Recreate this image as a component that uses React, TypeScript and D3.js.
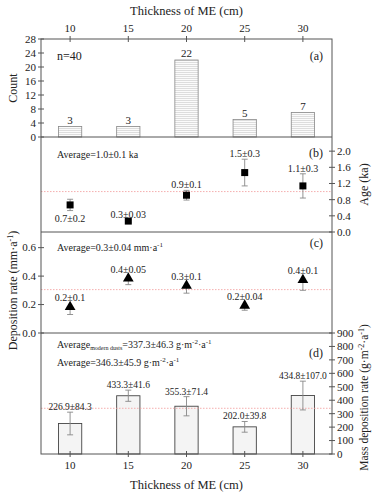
import React from "react";
import * as d3 from "d3";

const thickness = [10, 15, 20, 25, 30];
const counts = [3, 3, 22, 5, 7];
const ageValues = [0.67, 0.27, 0.91, 1.47, 1.14];
const ageErrors = [0.14, 0.03, 0.12, 0.33, 0.3];
const ageLabels = ["0.7±0.2", "0.3±0.03", "0.9±0.1", "1.5±0.3", "1.1±0.3"];
const ageAverage = 1.0;
const rateValues = [0.19, 0.39, 0.34, 0.2, 0.38];
const rateErrors = [0.06, 0.05, 0.06, 0.04, 0.08];
const rateLabels = ["0.2±0.1", "0.4±0.05", "0.3±0.1", "0.2±0.04", "0.4±0.1"];
const rateAverage = 0.305;
const massValues = [226.9, 433.3, 355.3, 202.0, 434.8];
const massErrors = [84.3, 41.6, 71.4, 39.8, 107.0];
const massLabels = ["226.9±84.3", "433.3±41.6", "355.3±71.4", "202.0±39.8", "434.8±107.0"];
const massAverage = 340;
const countTicks = [0, 4, 8, 12, 16, 20, 24, 28];
const ageTicks = [0, 0.4, 0.8, 1.2, 1.6, 2.0];
const rateTicks = [0, 0.2, 0.4, 0.6];
const massTicks = [0, 100, 200, 300, 400, 500, 600, 700, 800, 900];

const FONT = "Liberation Serif, DejaVu Serif, serif";
const FRAME = "#555";
const ERR = "#888";
const AVG = "#f29a9a";

const L = 41, R = 332;
const Y0 = 39, Y1 = 137, Y2 = 232, Y3 = 333, Y4 = 454;

export default function App() {
  const x = d3.scaleLinear().domain([7.5, 32.5]).range([L, R]);
  const ya = d3.scaleLinear().domain([0, 28]).range([Y1, Y0]);
  const yb = d3.scaleLinear().domain([0, 2.35]).range([Y2, Y1]);
  const yc = d3.scaleLinear().domain([0, 0.71]).range([Y3, Y2]);
  const yd = d3.scaleLinear().domain([0, 900]).range([Y4, Y3]);
  const bw = x(11) - x(9);
  const cap = 3;
  const tri = d3.symbol().type(d3.symbolTriangle).size(50)();

  const errBar = (cx: number, top: number, bot: number, key: string, showTop = true) => (
    <g key={key} stroke={ERR} strokeWidth={0.9}>
      <line x1={cx} x2={cx} y1={top} y2={bot} />
      {showTop && <line x1={cx - cap} x2={cx + cap} y1={top} y2={top} />}
      <line x1={cx - cap} x2={cx + cap} y1={bot} y2={bot} />
    </g>
  );

  const leftAxis = (scale: d3.ScaleLinear<number, number>, ticks: number[], fmt: (v: number) => string, key: string) => (
    <g key={key}>
      {ticks.map((t) => (
        <g key={t}>
          <line x1={L - 3} x2={L + 3} y1={scale(t)} y2={scale(t)} stroke={FRAME} />
          <text x={L - 5} y={scale(t)} dy="0.35em" textAnchor="end" fontSize={11}>{fmt(t)}</text>
        </g>
      ))}
    </g>
  );
  const rightAxis = (scale: d3.ScaleLinear<number, number>, ticks: number[], fmt: (v: number) => string, key: string) => (
    <g key={key}>
      {ticks.map((t) => (
        <g key={t}>
          <line x1={R - 3} x2={R + 3} y1={scale(t)} y2={scale(t)} stroke={FRAME} />
          <text x={R + 5} y={scale(t)} dy="0.35em" textAnchor="start" fontSize={11}>{fmt(t)}</text>
        </g>
      ))}
    </g>
  );

  return (
    <svg width={376} height={495} style={{ position: "absolute", left: 0, top: 0, fontFamily: FONT }} fill="#222">
      <defs>
        <pattern id="hlines" width="4" height="2" patternUnits="userSpaceOnUse">
          <rect width="4" height="2" fill="#fbfbfb" />
          <line x1="0" x2="4" y1="0.5" y2="0.5" stroke="#d0d0d0" strokeWidth="0.7" />
        </pattern>
      </defs>

      {/* Top axis */}
      <text x={(L + R) / 2} y={15} textAnchor="middle" fontSize={12.5}>Thickness of ME (cm)</text>
      {thickness.map((t) => (
        <g key={"tt" + t}>
          <line x1={x(t)} x2={x(t)} y1={Y0 - 3} y2={Y0 + 3} stroke={FRAME} />
          <text x={x(t)} y={32} textAnchor="middle" fontSize={11}>{t}</text>
        </g>
      ))}

      {/* Panel a bars */}
      {counts.map((c, i) => (
        <g key={"a" + i}>
          <rect x={x(thickness[i]) - bw / 2} y={ya(c)} width={bw} height={Y1 - ya(c)} fill="url(#hlines)" stroke="#888" strokeWidth={0.8} />
          <text x={x(thickness[i])} y={ya(c) - 3} textAnchor="middle" fontSize={11}>{c}</text>
        </g>
      ))}
      <text x={57} y={60} fontSize={12}>n=40</text>
      <text x={323} y={60} textAnchor="end" fontSize={12}>(a)</text>

      {/* Panel b */}
      <line x1={L} x2={R} y1={yb(ageAverage)} y2={yb(ageAverage)} stroke={AVG} strokeWidth={0.8} strokeDasharray="1.5,1.5" />
      {ageValues.map((v, i) => {
        const cx = x(thickness[i]);
        return (
          <g key={"b" + i}>
            {errBar(cx, yb(v + ageErrors[i]), yb(v - ageErrors[i]), "be" + i)}
            <rect x={cx - 3.5} y={yb(v) - 3.5} width={7} height={7} fill="#000" />
            <text x={cx} y={i === 0 ? yb(v - ageErrors[i]) + 11 : yb(v + ageErrors[i]) - 2} textAnchor="middle" fontSize={10}>{ageLabels[i]}</text>
          </g>
        );
      })}
      <text x={57} y={158} fontSize={10}>Average=1.0±0.1 ka</text>
      <text x={323} y={157} textAnchor="end" fontSize={12}>(b)</text>

      {/* Panel c */}
      <line x1={L} x2={R} y1={yc(rateAverage)} y2={yc(rateAverage)} stroke={AVG} strokeWidth={0.8} strokeDasharray="1.5,1.5" />
      {rateValues.map((v, i) => {
        const cx = x(thickness[i]);
        return (
          <g key={"c" + i}>
            {errBar(cx, yc(v), yc(v - rateErrors[i]), "ce" + i, false)}
            <path d={tri || ""} transform={`translate(${cx},${yc(v) + 1})`} fill="#000" />
            <text x={cx} y={yc(v) - 4.5} textAnchor="middle" fontSize={10}>{rateLabels[i]}</text>
          </g>
        );
      })}
      <text x={57} y={251} fontSize={10}>
        Average=0.3±0.04 mm·a<tspan fontSize={7} dy={-4}>-1</tspan>
      </text>
      <text x={323} y={247} textAnchor="end" fontSize={12}>(c)</text>

      {/* Panel d */}
      {massValues.map((v, i) => {
        const cx = x(thickness[i]);
        return (
          <rect key={"d" + i} x={cx - bw / 2} y={yd(v)} width={bw} height={Y4 - yd(v)} fill="#f4f4f4" stroke="#444" strokeWidth={0.9} />
        );
      })}
      <line x1={L} x2={R} y1={yd(massAverage)} y2={yd(massAverage)} stroke={AVG} strokeWidth={0.8} strokeDasharray="1.5,1.5" />
      {massValues.map((v, i) => {
        const cx = x(thickness[i]);
        return (
          <g key={"de" + i}>
            {errBar(cx, yd(v + massErrors[i]), yd(v - massErrors[i]), "dd" + i)}
            <text x={cx} y={yd(v + massErrors[i]) - 2} textAnchor="middle" fontSize={9.5}>{massLabels[i]}</text>
          </g>
        );
      })}
      <text x={57} y={348} fontSize={10}>
        Average<tspan fontSize={6} dy={2}>modern dusts</tspan>
        <tspan dy={-2}>=337.3±46.3 g·m</tspan>
        <tspan fontSize={7} dy={-4}>-2</tspan>
        <tspan dy={4}>·a</tspan>
        <tspan fontSize={7} dy={-4}>-1</tspan>
      </text>
      <text x={57} y={366} fontSize={10}>
        Average=346.3±45.9 g·m<tspan fontSize={7} dy={-4}>-2</tspan>
        <tspan dy={4}>·a</tspan>
        <tspan fontSize={7} dy={-4}>-1</tspan>
      </text>
      <text x={323} y={357} textAnchor="end" fontSize={12}>(d)</text>

      {/* Frame and separators */}
      <rect x={L} y={Y0} width={R - L} height={Y4 - Y0} fill="none" stroke={FRAME} strokeWidth={1} />
      {[Y1, Y2, Y3].map((yy) => (
        <line key={"sep" + yy} x1={L} x2={R} y1={yy} y2={yy} stroke={FRAME} strokeWidth={1} />
      ))}

      {/* Axes */}
      {leftAxis(ya, countTicks, (v) => String(v), "ax-a")}
      {rightAxis(yb, ageTicks, (v) => v.toFixed(1), "ax-b")}
      {leftAxis(yc, rateTicks, (v) => v.toFixed(1), "ax-c")}
      {rightAxis(yd, massTicks, (v) => String(v), "ax-d")}

      {/* Bottom axis */}
      {thickness.map((t) => (
        <g key={"bt" + t}>
          <line x1={x(t)} x2={x(t)} y1={Y4 - 3} y2={Y4 + 3} stroke={FRAME} />
          <text x={x(t)} y={Y4 + 15} textAnchor="middle" fontSize={11}>{t}</text>
        </g>
      ))}
      <text x={(L + R) / 2} y={489} textAnchor="middle" fontSize={12.5}>Thickness of ME (cm)</text>

      {/* Axis titles */}
      <text transform={`translate(17,${(Y0 + Y1) / 2}) rotate(-90)`} textAnchor="middle" fontSize={12}>Count</text>
      <text transform={`translate(17,${(Y2 + Y3) / 2 + 8}) rotate(-90)`} textAnchor="middle" fontSize={12}>
        Deposition rate (mm·a<tspan fontSize={8} dy={-4}>-1</tspan><tspan dy={4}>)</tspan>
      </text>
      <text transform={`translate(368,${(Y1 + Y2) / 2}) rotate(-90)`} textAnchor="middle" fontSize={12}>Age (ka)</text>
      <text transform={`translate(368,${(Y3 + Y4) / 2 + 4}) rotate(-90)`} textAnchor="middle" fontSize={11.5}>
        Mass deposition rate (g·m<tspan fontSize={8} dy={-4}>-2</tspan><tspan dy={4}>·a</tspan><tspan fontSize={8} dy={-4}>-1</tspan><tspan dy={4}>)</tspan>
      </text>
    </svg>
  );
}
